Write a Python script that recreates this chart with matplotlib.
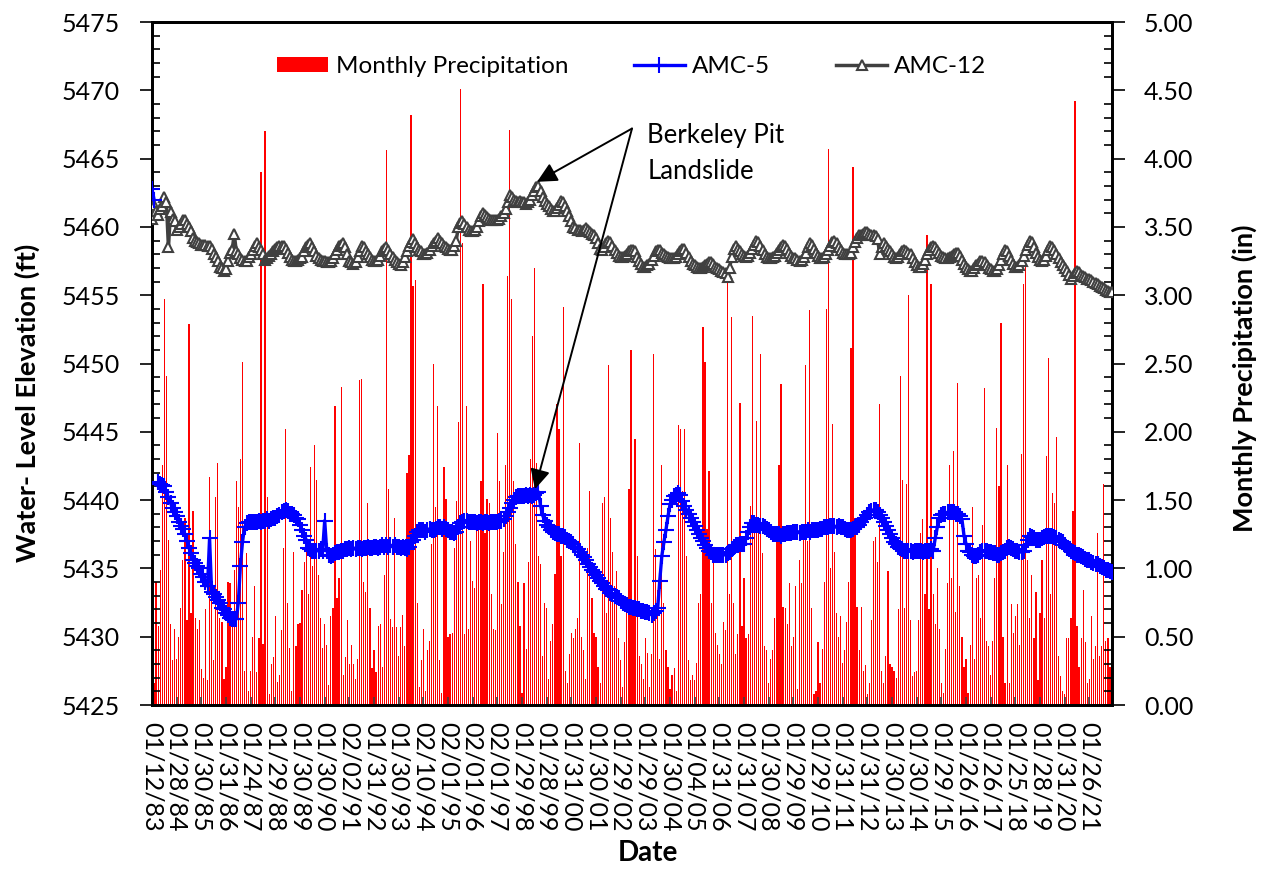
import numpy as np
import matplotlib
matplotlib.use("Agg")
import matplotlib.pyplot as plt
from matplotlib.ticker import MultipleLocator, FormatStrFormatter, FixedLocator
from matplotlib.patches import Patch
from matplotlib.lines import Line2D

plt.rcParams['font.family'] = ['Lato', 'DejaVu Sans']

# ---------------- data ----------------
date_labels = ["01/12/83", "01/28/84", "01/30/85", "01/31/86", "01/24/87", "01/29/88",
               "01/30/89", "01/30/90", "02/02/91", "01/31/92", "01/30/93", "02/10/94",
               "02/01/95", "02/01/96", "02/01/97", "01/29/98", "01/28/99", "01/31/00",
               "01/30/01", "01/29/02", "01/29/03", "01/30/04", "01/04/05", "01/31/06",
               "01/31/07", "01/30/08", "01/29/09", "01/29/10", "01/31/11", "01/31/12",
               "01/30/13", "01/30/14", "01/29/15", "01/26/16", "01/26/17", "01/25/18",
               "01/28/19", "01/31/20", "01/26/21"]

precip_in = [
    0.13, 0.16, 0.90, 0.58, 0.99, 1.76, 2.97, 2.41, 1.21, 0.59, 0.33, 0.56,
    0.34, 0.50, 0.71, 1.06, 1.37, 0.62, 2.79, 0.67, 1.42, 0.64, 0.56, 0.62,
    0.26, 0.20, 0.70, 0.18, 1.67, 0.84, 0.33, 1.52, 1.77, 0.64, 0.61, 0.19,
    0.28, 0.90, 0.89, 0.64, 0.99, 1.64, 1.45, 1.80, 2.51, 0.25, 1.11, 0.10,
    0.25, 0.50, 0.87, 0.24, 0.49, 3.90, 0.45, 4.20, 1.52, 0.08, 0.30, 0.35,
    0.65, 0.17, 0.22, 0.55, 1.15, 2.02, 0.75, 0.42, 0.10, 1.12, 0.43, 0.59,
    0.60, 0.84, 1.05, 1.20, 0.81, 1.74, 1.02, 1.90, 1.65, 0.95, 0.64, 0.42,
    0.59, 0.44, 0.15, 0.65, 0.71, 2.19, 0.78, 0.93, 2.33, 0.22, 0.35, 0.62,
    0.30, 0.44, 0.30, 0.19, 0.34, 2.38, 2.39, 0.90, 0.83, 1.48, 0.71, 0.27,
    0.40, 0.24, 0.58, 0.59, 0.28, 0.95, 4.06, 1.58, 0.63, 0.57, 1.37, 0.57,
    0.36, 0.57, 0.66, 0.43, 1.70, 1.83, 4.32, 3.07, 3.11, 0.75, 0.13, 0.33,
    0.56, 0.10, 0.40, 0.47, 1.18, 2.50, 1.45, 2.19, 0.33, 0.09, 1.74, 1.51,
    0.50, 0.52, 0.53, 1.15, 1.49, 2.07, 4.51, 3.38, 0.52, 2.19, 0.56, 1.20,
    0.91, 0.86, 1.30, 1.34, 1.64, 3.08, 1.26, 1.51, 1.48, 0.81, 0.56, 0.55,
    1.99, 1.64, 0.74, 1.12, 1.76, 3.14, 4.21, 2.97, 1.64, 1.18, 0.90, 0.58,
    0.09, 0.89, 0.41, 1.05, 1.80, 2.70, 3.20, 1.77, 1.09, 1.03, 0.36, 0.75,
    0.71, 0.19, 0.47, 0.59, 0.96, 2.20, 2.02, 1.09, 2.91, 0.25, 0.16, 0.37,
    0.53, 0.49, 0.56, 0.64, 1.92, 0.50, 0.40, 0.19, 1.15, 1.57, 0.78, 0.53,
    0.50, 0.28, 0.16, 1.48, 1.52, 0.67, 2.49, 1.37, 1.12, 0.87, 0.98, 0.49,
    0.33, 0.13, 0.46, 0.67, 1.58, 2.60, 0.75, 1.95, 1.09, 0.36, 0.30, 0.19,
    0.49, 0.38, 0.13, 0.37, 2.57, 1.14, 0.84, 0.34, 1.76, 0.75, 0.40, 0.28,
    0.12, 0.22, 0.27, 0.10, 2.05, 2.02, 1.57, 2.02, 1.09, 0.33, 0.18, 0.22,
    0.18, 0.31, 0.75, 0.81, 2.77, 2.51, 1.29, 1.71, 0.75, 1.05, 0.53, 0.44,
    0.37, 0.30, 0.61, 0.55, 3.14, 0.81, 2.84, 0.75, 0.37, 0.52, 2.21, 0.58,
    0.93, 0.49, 0.52, 1.46, 2.85, 1.34, 2.08, 1.26, 2.57, 1.11, 0.43, 0.40,
    0.16, 0.34, 0.40, 0.64, 1.23, 1.76, 2.35, 0.72, 0.71, 0.59, 0.89, 0.43,
    0.50, 0.87, 0.12, 1.06, 0.89, 1.21, 2.49, 1.20, 2.89, 0.71, 0.08, 0.10,
    0.46, 0.16, 0.41, 0.90, 2.90, 4.07, 1.00, 2.06, 1.12, 0.67, 0.50, 0.65,
    0.31, 0.40, 0.61, 0.90, 2.61, 3.94, 1.37, 0.72, 0.40, 0.72, 0.25, 0.29,
    0.08, 0.16, 0.62, 1.20, 1.23, 1.05, 2.20, 0.25, 0.16, 0.36, 0.98, 0.30,
    0.28, 0.25, 0.20, 0.70, 2.41, 1.65, 0.71, 1.62, 3.00, 0.62, 0.21, 0.24,
    0.25, 0.62, 1.26, 1.36, 0.81, 3.44, 0.70, 3.08, 0.81, 0.59, 1.00, 0.56,
    0.16, 0.09, 0.41, 0.89, 1.76, 0.93, 1.86, 0.68, 2.36, 0.87, 0.50, 0.28,
    0.34, 0.09, 0.44, 1.45, 0.34, 0.93, 0.95, 0.64, 1.32, 2.32, 0.47, 0.43,
    0.22, 0.47, 0.93, 2.03, 1.60, 2.80, 0.50, 0.16, 1.76, 0.16, 0.74, 0.53,
    0.65, 0.74, 0.44, 1.84, 3.08, 3.22, 1.06, 0.64, 0.95, 0.49, 0.83, 0.18,
    0.67, 1.06, 0.64, 1.82, 2.54, 0.81, 1.55, 1.48, 1.96, 0.36, 0.21, 0.10,
    0.08, 0.49, 0.49, 0.64, 1.42, 4.42, 0.58, 0.28, 0.49, 0.84, 0.46, 0.16,
    0.19, 0.65, 0.34, 0.43, 1.26, 0.36, 0.43, 1.62, 0.47, 0.49, 0.28, 0.34,
]

amc5_ft = [
    5462.8, 5462.0, np.nan, 5441.3, 5441.2, 5441.1, 5441.0, 5440.6, 5440.2, 5439.8, 5439.4, 5439.1,
    5438.8, 5438.4, 5438.1, 5437.9, 5437.5, 5437.0, 5436.5, 5436.1, 5435.6, 5435.4, 5435.2, 5435.0,
    5434.6, 5434.4, 5434.0, 5433.7, 5437.2, 5433.3, 5433.1, 5432.9, 5432.7, 5432.5, 5432.1, 5432.0,
    5431.7, 5431.6, 5431.4, 5431.3, 5431.3, 5431.3, 5432.5, 5435.2, 5436.9, 5438.0, 5438.3, 5438.4,
    5438.4, 5438.4, 5438.4, 5438.4, 5438.5, 5438.4, 5438.5, 5438.5, 5438.6, 5438.5, 5438.6, 5438.7,
    5438.7, 5438.8, 5438.9, 5439.1, 5439.2, 5439.3, 5439.2, 5439.0, 5439.0, 5438.9, 5438.7, 5438.6,
    5438.2, 5437.8, 5437.4, 5437.1, 5436.5, 5436.4, 5436.3, 5436.3, 5436.3, 5436.3, 5436.4, 5436.3,
    5438.5, 5436.3, 5436.0, 5435.9, 5436.0, 5436.1, 5436.2, 5436.2, 5436.3, 5436.3, 5436.4, 5436.4,
    5436.5, 5436.4, 5436.5, 5436.4, 5436.5, 5436.5, 5436.4, 5436.5, 5436.5, 5436.6, 5436.5, 5436.5,
    5436.6, 5436.6, 5436.5, 5436.6, 5436.7, 5436.6, 5436.7, 5436.6, 5436.7, 5436.6, 5436.7, 5436.6,
    5436.6, 5436.5, 5436.6, 5436.5, 5436.4, 5436.6, 5436.9, 5437.1, 5437.4, 5437.7, 5437.8, 5437.8,
    5437.8, 5437.7, 5437.8, 5437.9, 5437.8, 5437.8, 5437.9, 5438.0, 5438.0, 5437.9, 5438.0, 5437.9,
    5437.8, 5437.7, 5437.7, 5437.6, 5437.7, 5438.0, 5438.3, 5438.4, 5438.5, 5438.5, 5438.4, 5438.4,
    5438.4, 5438.4, 5438.3, 5438.4, 5438.4, 5438.3, 5438.4, 5438.4, 5438.3, 5438.4, 5438.4, 5438.4,
    5438.4, 5438.5, 5438.5, 5438.6, 5438.8, 5439.1, 5439.4, 5439.8, 5440.0, 5440.2, 5440.3, 5440.3,
    5440.3, 5440.3, 5440.4, 5440.3, 5440.4, 5440.3, 5440.4, 5440.5, 5440.6, 5439.6, 5438.9, 5438.5,
    5438.2, 5438.0, 5437.8, 5437.7, 5437.6, 5437.5, 5437.5, 5437.4, 5437.4, 5437.3, 5437.1, 5437.0,
    5436.9, 5436.8, 5436.6, 5436.4, 5436.2, 5436.0, 5435.8, 5435.6, 5435.3, 5435.1, 5434.9, 5434.7,
    5434.5, 5434.3, 5434.1, 5433.9, 5433.7, 5433.5, 5433.4, 5433.2, 5433.1, 5433.0, 5432.9, 5432.8,
    5432.6, 5432.5, 5432.4, 5432.3, 5432.2, 5432.2, 5432.1, 5432.1, 5432.0, 5432.0, 5431.9, 5431.9,
    5431.8, 5431.8, 5431.7, 5431.6, 5431.7, 5431.9, 5432.1, 5434.1, 5435.9, 5436.9, 5437.8, 5438.8,
    5439.7, 5440.0, 5440.3, 5440.4, 5440.5, 5440.4, 5439.9, 5439.6, 5439.3, 5439.0, 5438.7, 5438.4,
    5438.1, 5437.8, 5437.5, 5437.2, 5437.0, 5436.7, 5436.5, 5436.3, 5436.2, 5436.0, 5436.0, 5436.0,
    5436.0, 5436.0, 5436.0, 5436.0, 5436.1, 5436.2, 5436.4, 5436.6, 5436.7, 5436.7, 5436.8, 5436.8,
    5436.8, 5437.2, 5437.7, 5438.0, 5438.3, 5438.3, 5438.2, 5438.2, 5438.1, 5438.1, 5438.0, 5437.9,
    5437.8, 5437.7, 5437.5, 5437.5, 5437.5, 5437.5, 5437.4, 5437.5, 5437.5, 5437.6, 5437.6, 5437.6,
    5437.7, 5437.7, 5437.7, 5437.6, 5437.7, 5437.7, 5437.7, 5437.8, 5437.7, 5437.8, 5437.8, 5437.8,
    5437.8, 5437.9, 5437.9, 5438.0, 5438.0, 5438.0, 5438.1, 5438.1, 5438.1, 5438.0, 5438.1, 5438.0,
    5438.0, 5437.9, 5437.8, 5437.8, 5437.8, 5437.9, 5438.0, 5438.0, 5438.2, 5438.4, 5438.6, 5438.7,
    5438.9, 5439.1, 5439.2, 5439.3, 5439.3, 5439.1, 5438.9, 5438.7, 5438.4, 5438.1, 5437.8, 5437.5,
    5437.2, 5436.9, 5436.8, 5436.6, 5436.5, 5436.4, 5436.3, 5436.3, 5436.3, 5436.3, 5436.2, 5436.3,
    5436.3, 5436.3, 5436.3, 5436.2, 5436.3, 5436.3, 5436.3, 5436.4, 5436.3, 5437.2, 5438.0, 5438.7,
    5438.9, 5439.0, 5439.0, 5439.1, 5439.1, 5439.1, 5439.1, 5439.0, 5439.0, 5438.8, 5438.6, 5437.4,
    5436.8, 5436.3, 5436.2, 5436.0, 5435.9, 5435.9, 5436.0, 5436.2, 5436.3, 5436.3, 5436.3, 5436.2,
    5436.2, 5436.1, 5436.1, 5436.0, 5436.0, 5436.1, 5436.2, 5436.3, 5436.5, 5436.6, 5436.5, 5436.4,
    5436.3, 5436.3, 5436.2, 5436.2, 5436.3, 5436.7, 5437.1, 5437.4, 5437.3, 5437.2, 5437.1, 5437.1,
    5437.1, 5437.2, 5437.3, 5437.4, 5437.4, 5437.4, 5437.4, 5437.3, 5437.2, 5437.1, 5437.0, 5436.9,
    5436.7, 5436.5, 5436.4, 5436.3, 5436.2, 5436.1, 5436.0, 5436.0, 5435.9, 5435.8, 5435.7, 5435.6,
    5435.6, 5435.5, 5435.4, 5435.3, 5435.3, 5435.2, 5435.1, 5435.0, 5434.9, 5434.9, 5434.8, 5434.7,
]

amc12_ft = [
    5460.6, 5461.6, 5461.2, 5460.9, 5461.3, 5461.5, 5462.2, 5461.8, 5458.5, 5461.1, 5460.6, 5460.4,
    5459.8, 5460.0, 5460.2, 5460.5, 5460.5, 5460.2, 5460.0, 5459.7, 5459.2, 5459.0, 5458.9, 5458.8,
    5458.7, 5458.7, 5458.7, 5458.6, 5458.6, 5458.4, 5458.0, 5457.8, 5457.5, 5457.1, 5457.0, 5456.8,
    5456.9, 5457.5, 5458.1, 5458.3, 5459.5, 5458.2, 5458.0, 5457.7, 5457.6, 5457.5, 5457.5, 5457.8,
    5458.0, 5458.3, 5458.6, 5458.8, 5458.5, 5458.3, 5458.0, 5457.6, 5457.7, 5457.9, 5458.0, 5458.2,
    5458.4, 5458.5, 5458.6, 5458.6, 5458.6, 5458.4, 5458.1, 5457.8, 5457.6, 5457.5, 5457.5, 5457.6,
    5457.7, 5457.8, 5458.2, 5458.5, 5458.7, 5458.8, 5458.5, 5458.2, 5457.9, 5457.7, 5457.6, 5457.5,
    5457.5, 5457.4, 5457.4, 5457.5, 5457.7, 5458.0, 5458.3, 5458.6, 5458.7, 5458.8, 5458.5, 5458.0,
    5457.5, 5457.4, 5457.3, 5457.4, 5457.8, 5458.2, 5458.6, 5458.5, 5458.2, 5458.0, 5457.8, 5457.6,
    5457.5, 5457.5, 5457.6, 5457.9, 5458.2, 5458.4, 5458.5, 5458.3, 5458.0, 5457.8, 5457.6, 5457.4,
    5457.3, 5457.2, 5457.4, 5457.8, 5458.2, 5458.6, 5458.9, 5459.1, 5458.8, 5458.5, 5458.3, 5458.2,
    5458.0, 5458.0, 5458.1, 5458.3, 5458.6, 5458.8, 5459.0, 5459.2, 5459.0, 5458.8, 5458.6, 5458.5,
    5458.4, 5458.3, 5458.3, 5458.6, 5459.0, 5460.0, 5460.3, 5460.4, 5460.2, 5460.0, 5459.8, 5459.7,
    5459.7, 5459.8, 5460.0, 5460.4, 5460.8, 5461.0, 5460.9, 5460.7, 5460.6, 5460.5, 5460.5, 5460.5,
    5460.5, 5460.6, 5460.8, 5461.0, 5461.3, 5461.8, 5462.3, 5462.2, 5462.0, 5461.9, 5461.8, 5461.9,
    5461.8, 5461.8, 5461.7, 5461.8, 5462.0, 5462.3, 5462.6, 5462.9, 5463.0, 5462.6, 5462.2, 5461.9,
    5461.7, 5461.5, 5461.3, 5461.2, 5461.2, 5461.4, 5461.6, 5461.9, 5461.8, 5461.5, 5461.2, 5460.8,
    5460.4, 5460.0, 5459.9, 5459.8, 5459.8, 5459.7, 5459.8, 5459.9, 5459.8, 5459.6, 5459.5, 5459.4,
    5459.2, 5458.8, 5458.4, 5458.3, 5458.5, 5458.8, 5459.0, 5458.9, 5458.6, 5458.3, 5458.1, 5457.9,
    5457.8, 5457.8, 5457.9, 5458.0, 5458.2, 5458.3, 5458.3, 5458.2, 5457.8, 5457.5, 5457.3, 5457.1,
    5457.1, 5457.2, 5457.3, 5457.6, 5457.9, 5458.2, 5458.3, 5458.3, 5458.1, 5458.0, 5457.9, 5457.8,
    5457.7, 5457.7, 5457.7, 5457.8, 5458.0, 5458.2, 5458.4, 5458.4, 5458.1, 5457.8, 5457.5, 5457.3,
    5457.2, 5457.1, 5457.0, 5457.0, 5457.1, 5457.2, 5457.3, 5457.4, 5457.4, 5457.3, 5457.1, 5457.0,
    5456.9, 5456.8, 5456.7, 5456.6, 5456.3, 5457.0, 5457.8, 5458.4, 5458.6, 5458.4, 5458.2, 5458.0,
    5457.9, 5457.8, 5457.9, 5458.1, 5458.4, 5458.7, 5459.0, 5458.9, 5458.6, 5458.3, 5458.0, 5457.8,
    5457.7, 5457.7, 5457.8, 5457.9, 5458.1, 5458.3, 5458.5, 5458.7, 5458.6, 5458.4, 5458.1, 5457.9,
    5457.7, 5457.7, 5457.6, 5457.5, 5457.6, 5457.8, 5458.1, 5458.5, 5458.8, 5458.7, 5458.4, 5458.1,
    5457.9, 5457.7, 5457.7, 5457.8, 5458.0, 5458.3, 5458.6, 5458.9, 5459.0, 5458.8, 5458.5, 5458.3,
    5458.1, 5458.0, 5458.0, 5458.0, 5458.1, 5458.5, 5458.9, 5459.2, 5459.4, 5459.4, 5459.5, 5459.6,
    5459.6, 5459.5, 5459.4, 5459.4, 5459.3, 5459.1, 5458.0, 5458.5, 5458.8, 5458.6, 5458.4, 5458.2,
    5458.0, 5457.8, 5457.7, 5457.8, 5458.0, 5458.2, 5458.3, 5458.2, 5458.1, 5458.0, 5457.7, 5457.4,
    5457.2, 5457.1, 5457.1, 5457.3, 5457.6, 5458.0, 5458.3, 5458.5, 5458.6, 5458.5, 5458.3, 5458.1,
    5457.9, 5457.8, 5457.7, 5457.7, 5457.8, 5457.9, 5458.0, 5458.1, 5458.1, 5457.9, 5457.6, 5457.3,
    5457.1, 5456.9, 5456.8, 5456.8, 5457.0, 5457.2, 5457.3, 5457.5, 5457.5, 5457.4, 5457.2, 5457.0,
    5456.9, 5456.8, 5456.8, 5456.9, 5457.2, 5457.6, 5458.0, 5458.3, 5458.2, 5457.9, 5457.6, 5457.3,
    5457.1, 5457.1, 5457.2, 5457.5, 5457.9, 5458.3, 5458.7, 5459.0, 5458.9, 5458.5, 5458.1, 5457.8,
    5457.6, 5457.5, 5457.6, 5457.9, 5458.3, 5458.6, 5458.5, 5458.3, 5458.0, 5457.7, 5457.4, 5457.2,
    5457.0, 5456.8, 5456.5, 5456.2, 5456.4, 5456.6, 5456.8, 5456.7, 5456.5, 5456.4, 5456.3, 5456.2,
    5456.2, 5456.1, 5456.0, 5455.9, 5455.8, 5455.7, 5455.6, 5455.5, 5455.4, 5455.3, 5455.2, 5455.2,
]

label_step = 12  # one date label per 12 monthly records

# ---------------- figure ----------------
W, H = 1268, 871
fig = plt.figure(figsize=(W / 100, H / 100), dpi=100)
ax_p = fig.add_axes([152 / W, 1 - 705 / H, 960 / W, 683 / H])
ax_w = ax_p.twinx()

x = np.arange(len(precip_in))

# precipitation bars (right axis, drawn underneath)
ax_p.bar(x, precip_in, width=0.6, color='#FF0000', linewidth=0, zorder=1)
ax_p.set_ylim(0, 5)
ax_p.set_xlim(0, len(precip_in) - 1)

# water levels (left axis, drawn on top)
ax_w.plot(x, amc12_ft, color='#404040', lw=2.5, marker='^', ms=6.5, mfc='white',
          mec='#404040', mew=1.5, zorder=3)
ax_w.plot(x, amc5_ft, color='#0000FF', lw=2.4, marker='+', ms=12, mew=1.5, zorder=4)
ax_w.set_ylim(5425, 5475)

# axis sides
ax_w.yaxis.tick_left()
ax_w.yaxis.set_label_position('left')
ax_p.yaxis.tick_right()
ax_p.yaxis.set_label_position('right')

# ticks
ax_w.yaxis.set_major_locator(MultipleLocator(5))
ax_w.yaxis.set_minor_locator(MultipleLocator(1))
ax_p.yaxis.set_major_locator(MultipleLocator(0.5))
ax_p.yaxis.set_minor_locator(MultipleLocator(0.1))
ax_p.yaxis.set_major_formatter(FormatStrFormatter('%.2f'))

for a in (ax_w, ax_p):
    a.tick_params(axis='y', which='major', direction='out', length=9, width=1.2,
                  labelsize=18, pad=14, colors='black')
    a.tick_params(axis='y', which='minor', direction='in', length=6, width=1.2)
    for s in a.spines.values():
        s.set_linewidth(2.0)
        s.set_color('black')

tick_pos = list(range(0, len(precip_in), label_step))
ax_p.xaxis.set_major_locator(FixedLocator(tick_pos))
ax_p.set_xticklabels(date_labels)
ax_p.tick_params(axis='x', which='major', direction='in', length=6, width=1.2,
                 color='#404040', labelsize=18, pad=12, labelrotation=270)

# labels
ax_w.set_ylabel('Water- Level Elevation (ft)', fontsize=19.5, fontweight='bold')
ax_w.yaxis.set_label_coords(-0.117, 0.442)
ax_p.set_ylabel('Monthly Precipitation (in)', fontsize=19.5, fontweight='bold', rotation=90)
ax_p.yaxis.set_label_coords(1.125, 0.479)
ax_p.set_xlabel('Date', fontsize=20, fontweight='bold')
ax_p.xaxis.set_label_coords(0.517, -0.198)

# legend
handles = [Patch(facecolor='#FF0000', edgecolor='none'),
           Line2D([], [], color='#0000FF', lw=2.4, marker='+', ms=12, mew=1.5),
           Line2D([], [], color='#404040', lw=2.5, marker='^', ms=6.5, mfc='white',
                  mec='#404040', mew=1.5)]
ax_w.legend(handles, ['Monthly Precipitation', 'AMC-5', 'AMC-12'], ncol=3,
            loc='center', bbox_to_anchor=(0.5, 0.935), frameon=False, fontsize=17.5,
            handlelength=2.1, handleheight=0.6, handletextpad=0.3, columnspacing=2.7)

# annotation
start = (233.5, 5467.2)
arrow_kw = dict(arrowstyle='-|>', color='black', lw=1.4, mutation_scale=30,
                shrinkA=0, shrinkB=0)
ax_w.annotate('', xy=(187.3, 5463.3), xytext=start, arrowprops=arrow_kw, zorder=6)
ax_w.annotate('', xy=(186.3, 5440.8), xytext=start, arrowprops=arrow_kw, zorder=6)
ax_w.text(241, 5467.6, 'Berkeley Pit\nLandslide', fontsize=18.5, ha='left', va='top',
          linespacing=1.55, zorder=6)

fig.savefig('out.png', dpi=100)
